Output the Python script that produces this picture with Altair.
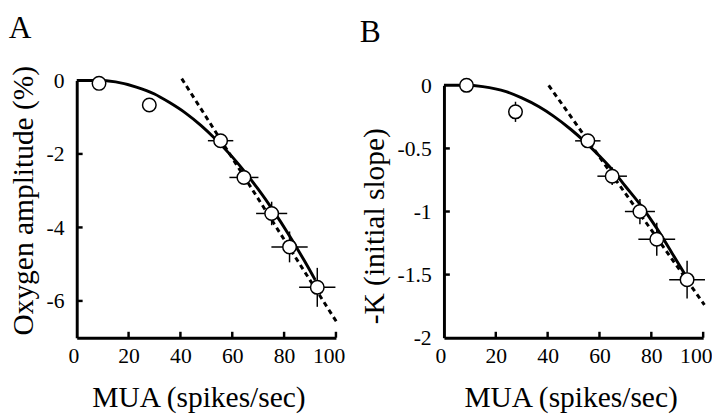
import altair as alt
import pandas as pd

# ---------------- Panel A data ----------------
mua_a = [8.6, 28.0, 55.5, 64.5, 75.2, 82.1, 92.8]
oxy_a = [-0.08, -0.67, -1.64, -2.64, -3.62, -4.53, -5.63]
mua_err_a = [0, 0, 4.9, 5.6, 6.0, 7.0, 7.0]
oxy_err_a = [0, 0, 0.10, 0.15, 0.32, 0.42, 0.53]

curve_a_x = [0, 8, 15, 23, 30, 35.5, 42, 48, 53, 60, 65, 70, 75.5, 82, 88, 92]
curve_a_y = [0, 0, -0.04, -0.18, -0.37, -0.59, -0.89, -1.23, -1.56, -2.08, -2.50, -2.96, -3.51, -4.22, -4.93, -5.43]
dotted_a_x = [40.5, 100.5]
dotted_a_y = [0.05, -6.6]

# ---------------- Panel B data ----------------
mua_b = [8.7, 27.6, 55.5, 64.9, 75.6, 82.1, 93.8]
k_b = [0.0, -0.21, -0.44, -0.72, -1.00, -1.22, -1.54]
mua_err_b = [0, 0, 4.9, 5.7, 5.8, 7.1, 6.9]
k_err_b = [0, 0.08, 0.04, 0.07, 0.10, 0.13, 0.15]

curve_b_x = [0, 8, 15, 24, 30, 36.7, 42, 49, 54, 60, 65, 70, 75.5, 82, 88, 93]
curve_b_y = [0, 0, -0.01, -0.05, -0.10, -0.17, -0.24, -0.35, -0.44, -0.56, -0.67, -0.80, -0.94, -1.13, -1.33, -1.50]
dotted_b_x = [40.4, 100.5]
dotted_b_y = [0.0, -1.74]

# ---------------- Axes ----------------
x_ticks = [0, 20, 40, 60, 80, 100]
y_ticks_a = [0, -2, -4, -6]
y_ticks_b = [0, -0.5, -1, -1.5, -2]

FONT = "Liberation Serif"
W = 264
H = 262


def panel(letter, mx, my, mxe, mye, cx, cy, dx, dy, yticks, ydomain, ytitle, ytop, ytitle_y, xtitle_x, toff):
    pts = pd.DataFrame({
        "x": mx, "y": my,
        "xlo": [a - e for a, e in zip(mx, mxe)], "xhi": [a + e for a, e in zip(mx, mxe)],
        "ylo": [a - e for a, e in zip(my, mye)], "yhi": [a + e for a, e in zip(my, mye)],
    })
    curve = pd.DataFrame({"x": cx, "y": cy})
    dotted = pd.DataFrame({"x": dx, "y": dy})
    xt = pd.DataFrame({"x": x_ticks[1:]})
    yt = pd.DataFrame({"y": yticks[1:-1] if yticks[-1] == ydomain[0] else yticks[1:]})

    xaxis = alt.Axis(values=x_ticks, title="MUA (spikes/sec)", grid=False, ticks=False, tickSize=0,
                     labelFlush=True, labelFlushOffset=9, labelPadding=8, titlePadding=17,
                     titleX=xtitle_x, labelFont=FONT, titleFont=FONT)
    yaxis = alt.Axis(values=yticks, title=ytitle, grid=False, ticks=False, tickSize=0,
                     labelExpr="'' + datum.value", labelPadding=13, titlePadding=8,
                     titleY=ytitle_y, labelFont=FONT, titleFont=FONT)
    xs = alt.Scale(domain=[0, 100], nice=False, zero=False)
    ys = alt.Scale(domain=ydomain, nice=False, zero=False, range=[H, ytop])

    def X(f):
        return alt.X(f, type="quantitative", scale=xs, axis=xaxis)

    def Y(f):
        return alt.Y(f, type="quantitative", scale=ys, axis=yaxis)

    base_pts = alt.Chart(pts)
    layers = [
        alt.Chart(curve).mark_line(color="black", strokeWidth=3, interpolate="monotone").encode(x=X("x"), y=Y("y")),
        alt.Chart(dotted).mark_line(color="black", strokeWidth=3, strokeDash=[5, 4]).encode(x=X("x"), y=Y("y")),
        base_pts.mark_rule(color="black", strokeWidth=1.5).encode(x=X("xlo"), x2="xhi", y=Y("y")),
        base_pts.mark_rule(color="black", strokeWidth=1.5).encode(x=X("x"), y=Y("ylo"), y2="yhi"),
        base_pts.mark_point(filled=True, fill="white", stroke="black", strokeWidth=1.5, size=190, opacity=1).encode(x=X("x"), y=Y("y")),
        alt.Chart(xt).mark_rule(color="black", strokeWidth=2.5).encode(x=X("x"), y=alt.value(H), y2=alt.value(H - 6)),
        alt.Chart(yt).mark_rule(color="black", strokeWidth=2.5).encode(y=Y("y"), x=alt.value(0), x2=alt.value(6)),
    ]
    return alt.layer(*layers).properties(
        width=W, height=H,
        title=alt.TitleParams(letter, anchor="start", fontSize=32, font=FONT, fontWeight="normal",
                              color="black", offset=toff),
    )


pa = panel("A", mua_a, oxy_a, mua_err_a, oxy_err_a, curve_a_x, curve_a_y, dotted_a_x, dotted_a_y,
           y_ticks_a, [-7, 0], "Oxygen amplitude (%)", 0, 122, 124, 21)
pb = panel("B", mua_b, k_b, mua_err_b, k_err_b, curve_b_x, curve_b_y, dotted_b_x, dotted_b_y,
           y_ticks_b, [-2, 0], "-K (initial slope)", 5, 148, 129, 26)

chart = alt.hconcat(pa, pb, spacing=15, padding=0, background="white").configure(
    font=FONT
).configure_axis(
    domainColor="black", domainWidth=3, labelColor="black", labelFont=FONT, labelFontSize=22,
    titleColor="black", titleFont=FONT, titleFontSize=30, titleFontWeight="normal",
).configure_view(stroke=None)

chart.save("out.html", embed_options={"renderer": "svg", "actions": False})
